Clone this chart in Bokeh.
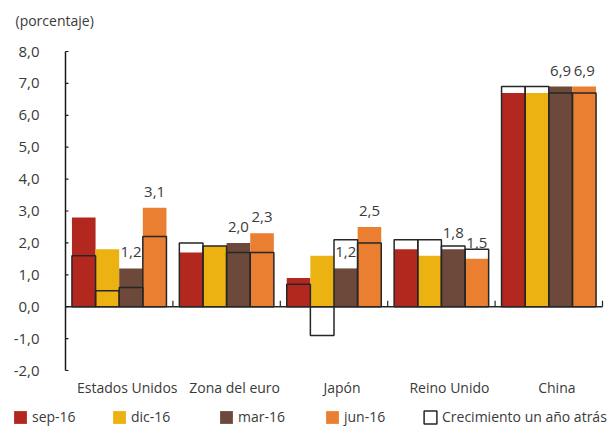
from bokeh.plotting import figure
from bokeh.models import Range1d, Legend, LegendItem, LabelSet, ColumnDataSource
from bokeh.core.properties import value
from bokeh.embed import file_html
from bokeh.resources import INLINE

# ---------------- data ----------------
countries = ["Estados Unidos", "Zona del euro", "Japón", "Reino Unido", "China"]
series_names = ["sep-16", "dic-16", "mar-16", "jun-16"]
sep16 = [2.8, 1.7, 0.9, 1.8, 6.7]
dic16 = [1.8, 1.9, 1.6, 1.6, 6.7]
mar16 = [1.2, 2.0, 1.2, 1.8, 6.9]
jun16 = [3.1, 2.3, 2.5, 1.5, 6.9]
# year-ago growth (outlined boxes)
sep16_prev = [1.6, 2.0, 0.7, 2.1, 6.9]
dic16_prev = [0.5, 1.9, -0.9, 2.1, 6.9]
mar16_prev = [0.6, 1.7, 2.1, 1.9, 6.7]
jun16_prev = [2.2, 1.7, 2.0, 1.8, 6.7]
outline_name = "Crecimiento un año atrás"
unit_label = "(porcentaje)"
y_ticks = [-2, -1, 0, 1, 2, 3, 4, 5, 6, 7, 8]
labelled_series = [2, 3]  # mar-16 and jun-16 carry value labels

colors = ["#B2281E", "#EBB212", "#6C493B", "#EA7F32"]
FONT = "Open Sans"
TXT = "#3a3a3a"
DARK = "#262626"

values = [sep16, dic16, mar16, jun16]
prevs = [sep16_prev, dic16_prev, mar16_prev, jun16_prev]

# ---------------- layout (pixels) ----------------
W, H = 615, 427
FL, FR, FT, FB = 65, 602, 51, 370      # plot area edges in pixels
ncat = len(countries)
ymin, ymax = min(y_ticks), max(y_ticks)
xpp = ncat / (FR - FL)                  # data units per pixel
ypp = (ymax - ymin) / (FB - FT)

p = figure(width=W, height=H, output_backend="svg", toolbar_location=None,
           x_range=Range1d(-FL * xpp, ncat + (W - FR) * xpp),
           y_range=Range1d(ymin - (H - FB) * ypp, ymax + FT * ypp),
           x_axis_location=None, y_axis_location=None, min_border=0)
p.outline_line_color = None
p.xgrid.grid_line_color = None
p.ygrid.grid_line_color = None
p.background_fill_color = "white"
p.border_fill_color = "white"

# ---------------- bars ----------------
bw = 0.22
n = len(series_names)
bar_renderers = []
for k, (vals, col) in enumerate(zip(values, colors)):
    xs = [i + 0.5 + (k - (n - 1) / 2) * bw for i in range(ncat)]
    r = p.vbar(x=xs, top=vals, bottom=0, width=bw, fill_color=col, line_color=None)
    bar_renderers.append(r)

outline_r = None
for k, prev in enumerate(prevs):
    xs = [i + 0.5 + (k - (n - 1) / 2) * bw for i in range(ncat)]
    r = p.vbar(x=xs, top=prev, bottom=0, width=bw, fill_color=None,
               line_color=DARK, line_width=1.5)
    if outline_r is None:
        outline_r = r

# value labels
lx, ly, lt = [], [], []
for k in labelled_series:
    for i, v in enumerate(values[k]):
        lx.append(i + 0.5 + (k - (n - 1) / 2) * bw)
        ly.append(v)
        lt.append(f"{v:.1f}".replace(".", ","))
src = ColumnDataSource(dict(x=lx, y=ly, t=lt))
p.add_layout(LabelSet(x="x", y="y", text="t", source=src, text_align="center",
                      text_baseline="alphabetic", y_offset=11, text_font=value(FONT),
                      text_font_size=value("15px"), text_color=TXT))

# ---------------- axes drawn by hand ----------------
# zero line
p.segment(x0=[0], x1=[ncat], y0=[0], y1=[0], line_color=DARK, line_width=1.5)
# category separators on the zero line
seps = list(range(1, ncat + 1))
p.segment(x0=seps, x1=seps, y0=0, y1=6 * ypp, line_color=DARK, line_width=1.2)
# y axis line and inward ticks
p.segment(x0=[0], x1=[0], y0=[ymin], y1=[ymax], line_color="#1a1a1a", line_width=1.5)
p.segment(x0=0, x1=3 * xpp, y0=y_ticks, y1=y_ticks, line_color="#1a1a1a", line_width=1.2)
# y tick labels
p.text(x=0, y=y_ticks, text=[f"{t:.1f}".replace(".", ",") for t in y_ticks],
       x_offset=-26, text_align="right", text_baseline="middle",
       text_font=value(FONT), text_font_size=value("15px"), text_color=TXT)
# category labels
shift = 0.075
p.text(x=[i + 0.5 + shift for i in range(ncat)], y=ymin - 17 * ypp, text=countries,
       text_align="center", text_baseline="middle",
       text_font=value(FONT), text_font_size=value("14px"), text_color=TXT)
# unit label
p.text(x=[(15 - FL) * xpp], y=[ymax + (FT - 20) * ypp], text=[unit_label],
       text_align="left", text_baseline="middle",
       text_font=value(FONT), text_font_size=value("14px"), text_color=TXT)

# ---------------- legend (one per entry, laid out in a row) ----------------
legend_px = [12, 111, 218, 324, 422]
entries = list(zip(series_names, bar_renderers)) + [(outline_name, outline_r)]
for (nm, r), lxp in zip(entries, legend_px):
    leg = Legend(items=[LegendItem(label=nm, renderers=[r])], location=(lxp, 1),
                 orientation="horizontal", padding=0, margin=0, spacing=0,
                 glyph_width=16, glyph_height=16, label_height=16, label_standoff=4,
                 label_text_font=FONT, label_text_font_size="14px",
                 label_text_color=TXT, border_line_alpha=0, background_fill_alpha=0)
    p.add_layout(leg, "center")

open("out.html", "w").write(file_html(p, INLINE))
